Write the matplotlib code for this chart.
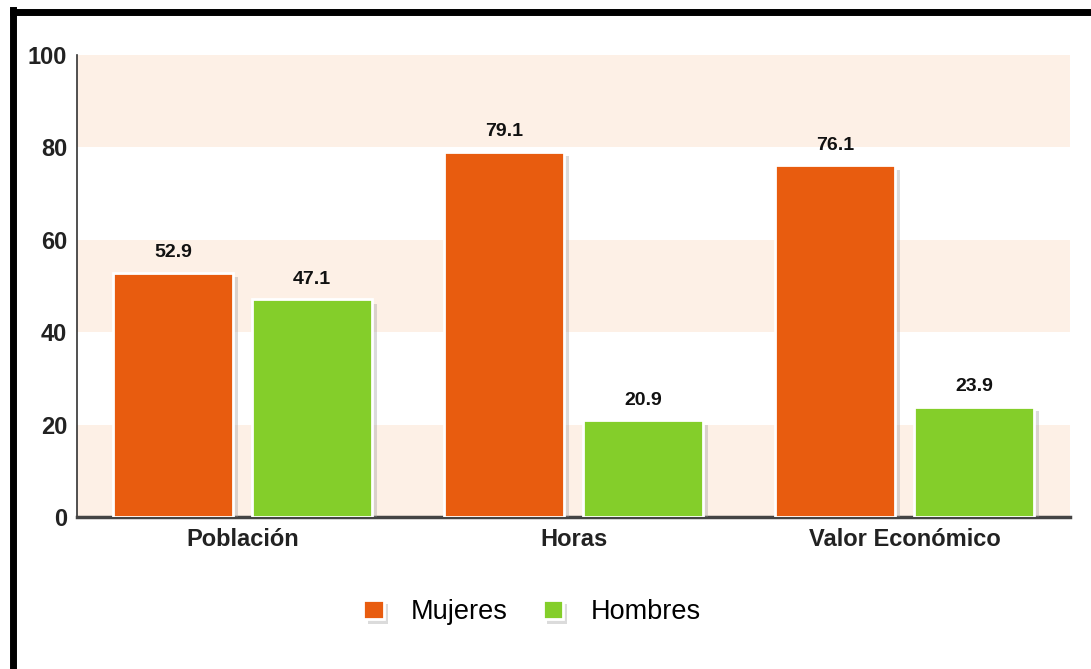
import matplotlib.pyplot as plt
import matplotlib.patheffects as pe
from matplotlib.lines import Line2D
import numpy as np

categories = ["Población", "Horas", "Valor Económico"]
mujeres = [52.9, 79.1, 76.1]
hombres = [47.1, 20.9, 23.9]
series_names = ["Mujeres", "Hombres"]

orange = "#E85C0F"
green = "#84CE2A"
band = "#FDF0E6"

plt.rcParams["font.family"] = ["Liberation Sans Narrow", "Liberation Sans", "DejaVu Sans"]

fig = plt.figure(figsize=(10.91, 6.69), dpi=100)
ax = fig.add_axes([77/1091, 1-517/669, 993/1091, 462/669])

# alternating horizontal bands
for lo in (0, 40, 80):
    ax.axhspan(lo, lo + 20, color=band, zorder=0, lw=0)

x = np.arange(len(categories))
w = 0.365
shadow = [pe.SimplePatchShadow(offset=(3, -3), shadow_rgbFace="#999999", alpha=0.35), pe.Normal()]
b1 = ax.bar(x - 0.21, mujeres, w, color=orange, edgecolor="white", lw=2, zorder=3,
            path_effects=shadow, label=series_names[0])
b2 = ax.bar(x + 0.21, hombres, w, color=green, edgecolor="white", lw=2, zorder=3,
            path_effects=shadow, label=series_names[1])

for bars, vals in ((b1, mujeres), (b2, hombres)):
    for r, v in zip(bars, vals):
        ax.text(r.get_x() + r.get_width()/2, v + 2.5, f"{v:.1f}", ha="center", va="bottom",
                fontsize=14, fontweight="bold", color="#111111")

ax.set_xlim(-0.5, 2.5)
ax.set_ylim(0, 100)
ax.set_yticks([0, 20, 40, 60, 80, 100])
ax.set_xticks(x)
ax.set_xticklabels(categories)
ax.tick_params(axis="y", length=0, pad=7, labelsize=17)
ax.tick_params(axis="x", length=0, pad=8, labelsize=17)
for lab in ax.get_xticklabels() + ax.get_yticklabels():
    lab.set_fontweight("bold")
    lab.set_color("#222222")

for s in ("top", "right"):
    ax.spines[s].set_visible(False)
ax.spines["left"].set_color("#333333")
ax.spines["left"].set_linewidth(1.2)
ax.spines["bottom"].set_color("#444444")
ax.spines["bottom"].set_linewidth(2.5)

leg = fig.legend(handles=[b1, b2], labels=series_names, loc="center", ncol=2,
                 bbox_to_anchor=(532/1091, 1-612/669), frameon=False,
                 handlelength=0.75, handleheight=0.75, columnspacing=1.3,
                 handletextpad=1.0, prop={"family": ["Liberation Sans", "DejaVu Sans"], "size": 19.5})

# black frame around the chart
fig.add_artist(Line2D([13/1091, 13/1091], [0, 1-10/669], color="black", lw=5))
fig.add_artist(Line2D([13/1091, 1], [1-12/669, 1-12/669], color="black", lw=5))

fig.savefig("out.png", dpi=100)
